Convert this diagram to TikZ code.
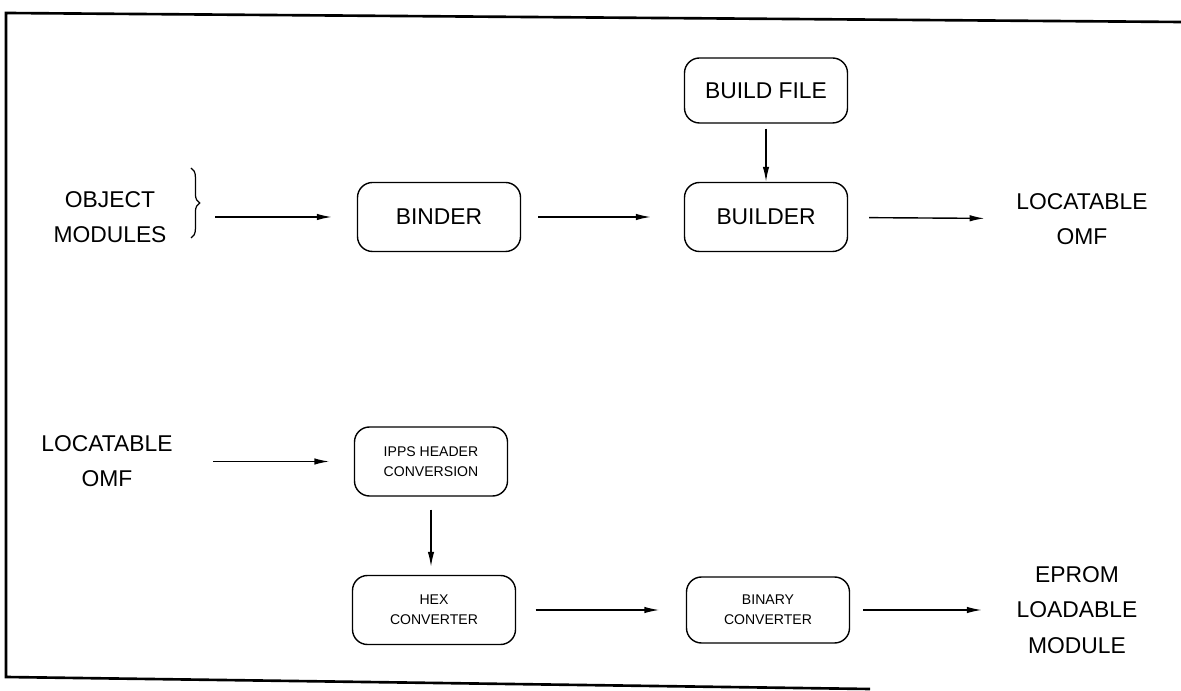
\documentclass[tikz,border=0pt]{standalone}
\usepackage{fontspec}
\setmainfont{Liberation Sans}
\usetikzlibrary{arrows.meta,decorations.pathreplacing}

\begin{document}
\begin{tikzpicture}[
    box/.style={draw,rectangle,rounded corners=0.3cm,line width=0.8pt,minimum width=3.26cm,minimum height=1.38cm,align=center,font=\fontsize{13}{20}\selectfont},
    smallbox/.style={box,font=\fontsize{8}{11.5}\selectfont},
    txt/.style={align=center,inner sep=0pt,font=\fontsize{13}{20}\selectfont},
    flow/.style={-{Latex[length=0.3cm,width=0.13cm]},line width=0.8pt}
]
        \useasboundingbox (0,0) rectangle (23.62,13.8);

        % Frame
        \draw[line width=1.5pt] (23.62,13.36) -- (0.12,13.54) -- (0.12,0.26) -- (17.4,0.02);

        % Binding and building
        \node[txt] (objmod) at (2.2,9.46) {OBJECT\\MODULES};
        \coordinate (bracetop) at (3.82,10.44);
        \coordinate (bracebot) at (3.82,9.04);
        \draw[decorate,decoration={brace,amplitude=5pt},line width=0.7pt] (bracetop) -- (bracebot);
        \node[box] (binder) at (8.78,9.46) {BINDER};
        \node[box] (builder) at (15.32,9.46) {BUILDER};
        \node[box,minimum height=1.3cm] (buildfile) at (15.32,11.99) {BUILD FILE};
        \node[txt] (loct) at (21.64,9.42) {LOCATABLE\\OMF};

        % Conversion to EPROM
        \node[txt] (locl) at (2.14,4.57) {LOCATABLE\\OMF};
        \node[smallbox,minimum width=3.06cm] (ipps) at (8.62,4.57) {IPPS HEADER\\CONVERSION};
        \node[smallbox] (hex) at (8.68,1.6) {HEX\\CONVERTER};
        \node[smallbox,minimum height=1.32cm] (binary) at (15.36,1.6) {BINARY\\CONVERTER};
        \node[txt] (eprom) at (21.54,1.6) {EPROM\\LOADABLE\\MODULE};

        % Arrows
        \draw[flow,shorten <=0.97cm,shorten >=0.5cm] (objmod) -- (binder);
        \draw[flow,shorten <=0.34cm,shorten >=0.66cm] (binder) -- (builder);
        \draw[flow,shorten <=0.42cm,shorten >=0.63cm] (builder) -- (loct);
        \draw[flow,shorten <=0.1cm] (buildfile) -- (builder);
        \draw[flow,shorten <=0.81cm,shorten >=0.49cm] (locl) -- (ipps);
        \draw[flow,shorten <=0.26cm,shorten >=0.16cm] (ipps) -- (ipps |- hex.north);
        \draw[flow,shorten <=0.39cm,shorten >=0.53cm] (hex) -- (binary);
        \draw[flow,shorten <=0.26cm,shorten >=0.69cm] (binary) -- (eprom);
    \end{tikzpicture}
\end{document}
